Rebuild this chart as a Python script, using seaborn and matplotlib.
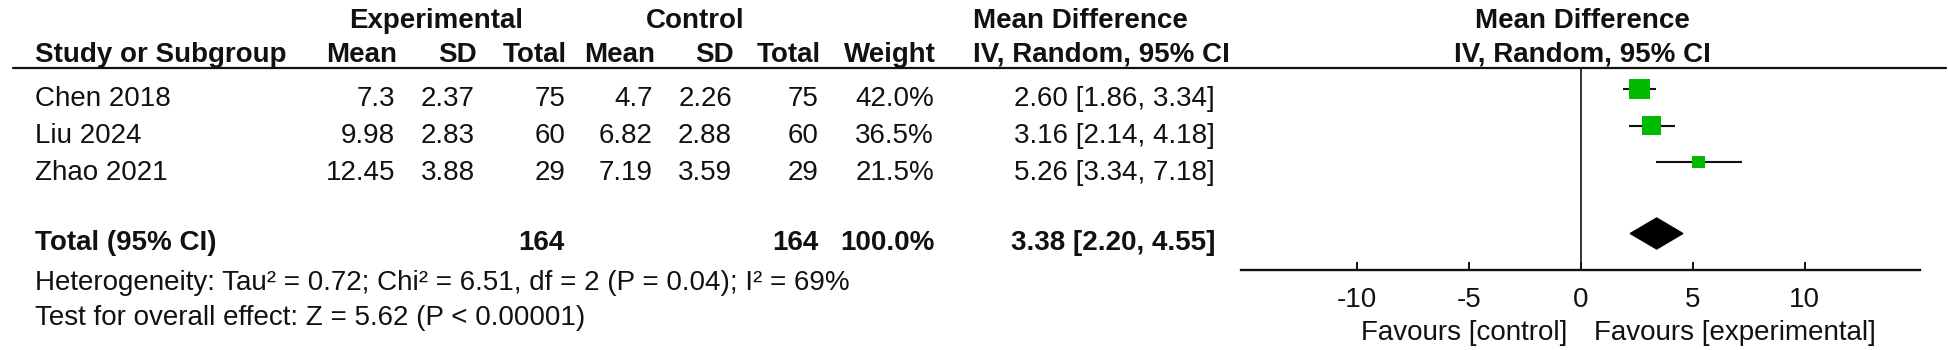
import pandas as pd
import seaborn as sns
import matplotlib.pyplot as plt
from matplotlib.lines import Line2D

# ------------------------------------------------
# Data
# ------------------------------------------------
studies = ["Chen 2018", "Liu 2024", "Zhao 2021"]
exp_mean = [7.3, 9.98, 12.45]
exp_sd = [2.37, 2.83, 3.88]
exp_n = [75, 60, 29]
ctrl_mean = [4.7, 6.82, 7.19]
ctrl_sd = [2.26, 2.88, 3.59]
ctrl_n = [75, 60, 29]
weight = [42.0, 36.5, 21.5]
md = [2.60, 3.16, 5.26]
ci_lo = [1.86, 2.14, 3.34]
ci_hi = [3.34, 4.18, 7.18]

total_md, total_lo, total_hi = 3.38, 2.20, 4.55
tau2, chi2, df, p_het, i2 = 0.72, 6.51, 2, 0.04, 69
z_val = 5.62

x_ticks = [-10, -5, 0, 5, 10]

# ------------------------------------------------
# Style
# ------------------------------------------------
sns.set_style("white")
plt.rcParams['font.family'] = ['Liberation Sans', 'DejaVu Sans']
FS = 20
INK = '#111111'

W, H = 1949, 350
fig = plt.figure(figsize=(W / 100, H / 100), dpi=100)


def put(x, y, s, ha='left', bold=False):
    # x, y in pixels from top-left, y is the baseline
    fig.text(x / W, 1 - y / H, s, ha=ha, va='baseline', fontsize=FS,
             color=INK, fontweight='bold' if bold else 'normal')


# ------------------------------------------------
# Table
# ------------------------------------------------
col_right = [397, 477, 567, 655, 734, 821, 936]
put(436, 28, "Experimental", ha='center', bold=True)
put(695, 28, "Control", ha='center', bold=True)
put(973, 28, "Mean Difference", bold=True)
put(1582, 28, "Mean Difference", ha='center', bold=True)

put(35, 62, "Study or Subgroup", bold=True)
for x, h in zip(col_right, ["Mean", "SD", "Total", "Mean", "SD", "Total", "Weight"]):
    put(x, 62, h, ha='right', bold=True)
put(973, 62, "IV, Random, 95% CI", bold=True)
put(1582, 62, "IV, Random, 95% CI", ha='center', bold=True)

fig.add_artist(Line2D([13 / W, 1946 / W], [1 - 68 / H, 1 - 68 / H],
                      color=INK, lw=1.6))

row_base = [106, 143, 180]
for i, name in enumerate(studies):
    y = row_base[i]
    put(35, y, name)
    vals = [str(exp_mean[i]), str(exp_sd[i]), str(exp_n[i]),
            str(ctrl_mean[i]), str(ctrl_sd[i]), str(ctrl_n[i]),
            f"{weight[i]:.1f}%"]
    for x, v in zip(col_right, vals):
        put(x - 2, y, v, ha='right')
    put(1215, y, f"{md[i]:.2f} [{ci_lo[i]:.2f}, {ci_hi[i]:.2f}]", ha='right')

put(35, 250, "Total (95% CI)", bold=True)
put(col_right[2] - 2, 250, str(sum(exp_n)), ha='right', bold=True)
put(col_right[5] - 2, 250, str(sum(ctrl_n)), ha='right', bold=True)
put(col_right[6] - 1, 250, f"{sum(weight):.1f}%", ha='right', bold=True)
put(1215, 250, f"{total_md:.2f} [{total_lo:.2f}, {total_hi:.2f}]", ha='right', bold=True)

put(35, 290, f"Heterogeneity: Tau² = {tau2:.2f}; Chi² = {chi2:.2f}, df = {df} "
             f"(P = {p_het:.2f}); I² = {i2}%")
put(35, 325, f"Test for overall effect: Z = {z_val:.2f} (P < 0.00001)")

# ------------------------------------------------
# Forest plot
# ------------------------------------------------
ax_l, ax_r, ax_t, ax_b = 1241, 1920, 68, 270
ax = fig.add_axes([ax_l / W, 1 - ax_b / H, (ax_r - ax_l) / W, (ax_b - ax_t) / H])
ax.set_xlim(-15.2, 15.15)
ax.set_ylim(ax_b, ax_t)

mark_y = [89, 125.5, 162]
total_y = 233.5

df_plot = pd.DataFrame({"md": md, "lo": ci_lo, "hi": ci_hi,
                        "weight": weight, "y": mark_y})

ax.axvline(0, color=INK, lw=1.2, zorder=1)
ax.hlines(df_plot["y"], df_plot["lo"], df_plot["hi"], color=INK, lw=1.5, zorder=2)
sns.scatterplot(data=df_plot, x="md", y="y", size="weight", sizes=(83, 228),
                marker='s', color='#00bb00', linewidth=0, legend=False,
                ax=ax, zorder=3)

dh = 15.5
ax.fill([total_lo, total_md, total_hi, total_md],
        [total_y, total_y - dh, total_y, total_y + dh], color='black', zorder=3)

for s in ['top', 'right', 'left']:
    ax.spines[s].set_visible(False)
ax.spines['bottom'].set_linewidth(1.7)
ax.spines['bottom'].set_color(INK)
ax.set_yticks([])
ax.set_xticks(x_ticks)
ax.set_xticklabels([str(t) for t in x_ticks])
ax.tick_params(axis='x', bottom=True, direction='in', length=6, width=1.4,
               colors=INK, labelsize=FS, pad=12)
ax.set_xlabel("")
ax.set_ylabel("")
ax.patch.set_alpha(0)

put(1567, 340, "Favours [control]", ha='right')
put(1594, 340, "Favours [experimental]")

plt.savefig("out.png", dpi=100)
plt.close(fig)
